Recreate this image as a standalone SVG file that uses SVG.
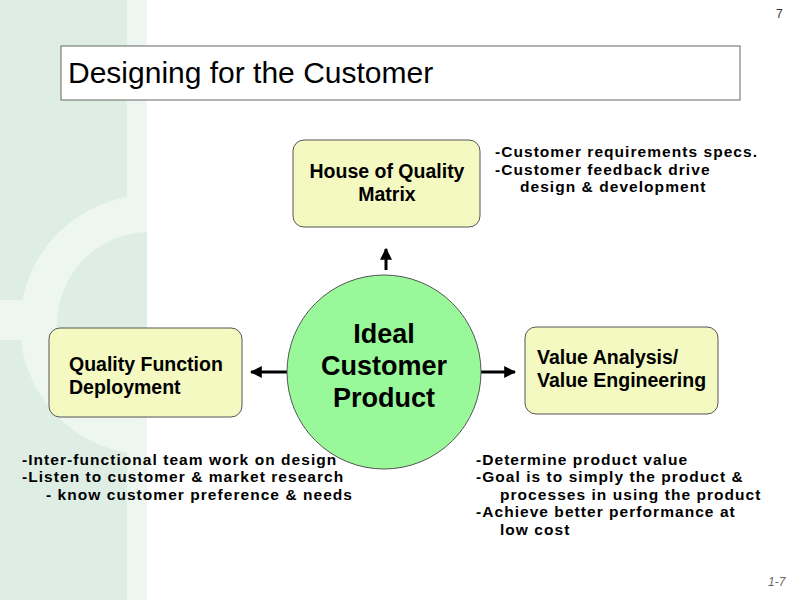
<svg xmlns="http://www.w3.org/2000/svg" width="800" height="600" viewBox="0 0 800 600">
<defs>
<style>
.box{fill:#f3f9c1;stroke:#555;stroke-width:1}
.bt{font-family:"Liberation Sans",Arial,sans-serif;font-weight:bold;font-size:19.5px;fill:#000}
.ct{font-family:"Liberation Sans",Arial,sans-serif;font-weight:bold;font-size:27px;fill:#000}
.nt{font-family:"Liberation Sans",Arial,sans-serif;font-weight:bold;font-size:15.5px;letter-spacing:1.05px;fill:#000}
.conn{stroke:#000;stroke-width:3;fill:none}
</style>
<marker id="ah" viewBox="0 0 10 10" refX="9" refY="5" markerWidth="4" markerHeight="4" orient="auto" markerUnits="strokeWidth">
<path d="M0,0 L10,5 L0,10 z" fill="#000"/>
</marker>
<clipPath id="stripe"><rect x="0" y="0" width="147" height="600"/></clipPath>
</defs>
<rect width="800" height="600" fill="#fff"/>
<g id="background">
<rect x="0" y="0" width="127" height="600" fill="#dfeee5"/>
<rect x="127" y="0" width="20" height="600" fill="#eef6f1"/>
<g clip-path="url(#stripe)">
<circle cx="150" cy="325" r="111.5" fill="none" stroke="#eef6f1" stroke-width="37"/>
<circle cx="150" cy="325" r="93" fill="#dfeee5"/>
<rect x="0" y="300" width="40" height="40" fill="#eef6f1"/>
</g>
</g>
<text x="776" y="18" font-family="Liberation Sans,Arial,sans-serif" font-size="12" fill="#333">7</text>
<text x="768" y="586" font-family="Liberation Sans,Arial,sans-serif" font-size="12" font-style="italic" fill="#666">1-7</text>
<g id="title">
<rect x="61" y="46" width="679" height="54" fill="#fff" stroke="#666" stroke-width="1"/>
<text x="68" y="83" font-family="Liberation Sans,Arial,sans-serif" font-size="30" fill="#000">Designing for the Customer</text>
</g>
<g id="connectors">
<line class="conn" x1="386" y1="270" x2="386" y2="249" marker-end="url(#ah)"/>
<line class="conn" x1="287" y1="372" x2="251" y2="372" marker-end="url(#ah)"/>
<line class="conn" x1="481" y1="372" x2="515" y2="372" marker-end="url(#ah)"/>
</g>
<g id="hoq">
<rect class="box" x="293" y="140" width="187" height="87" rx="11"/>
<text class="bt" x="387" y="178" text-anchor="middle">House of Quality</text>
<text class="bt" x="387" y="201" text-anchor="middle">Matrix</text>
</g>
<g id="ideal">
<circle cx="384" cy="372" r="97" fill="#99f899" stroke="#555" stroke-width="1"/>
<text class="ct" x="384" y="343" text-anchor="middle">Ideal</text>
<text class="ct" x="384" y="375" text-anchor="middle">Customer</text>
<text class="ct" x="384" y="407" text-anchor="middle">Product</text>
</g>
<g id="qfd">
<rect class="box" x="49" y="328" width="193" height="89" rx="11"/>
<text class="bt" x="69" y="371">Quality Function</text>
<text class="bt" x="69" y="394">Deployment</text>
</g>
<g id="vave">
<rect class="box" x="525" y="327" width="193" height="87" rx="11"/>
<text class="bt" x="537" y="364">Value Analysis/</text>
<text class="bt" x="537" y="387">Value Engineering</text>
</g>
<g id="notes">
<text class="nt" x="495" y="157">-Customer requirements specs.</text>
<text class="nt" x="495" y="174.5">-Customer feedback drive</text>
<text class="nt" x="520" y="192">design &amp; development</text>
<text class="nt" x="22" y="464.5">-Inter-functional team work on design</text>
<text class="nt" x="22" y="482">-Listen to customer &amp; market research</text>
<text class="nt" x="46" y="499.5">- know customer preference &amp; needs</text>
<text class="nt" x="476" y="464.5">-Determine product value</text>
<text class="nt" x="476" y="482">-Goal is to simply the product &amp;</text>
<text class="nt" x="500" y="499.5">processes in using the product</text>
<text class="nt" x="476" y="517">-Achieve better performance at</text>
<text class="nt" x="500" y="534.5">low cost</text>
</g>
</svg>
